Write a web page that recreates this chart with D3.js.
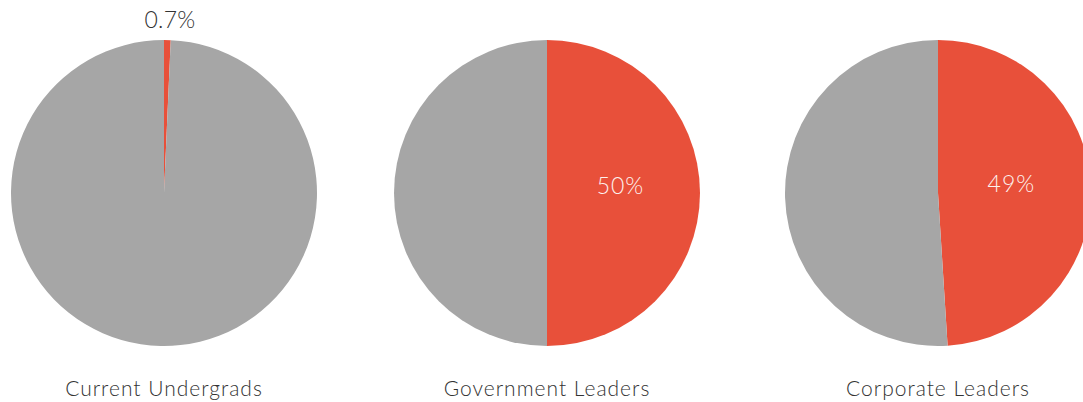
<!DOCTYPE html>
<html>
<head>
<meta charset="utf-8">
<script src="https://cdn.jsdelivr.net/npm/d3@7"></script>
<style>
  html, body { margin: 0; padding: 0; background: #fff; }
  svg { display: block; }
  text { font-family: Lato, "Open Sans", sans-serif; font-weight: 300; }
</style>
</head>
<body>
<svg id="chart" width="1083" height="402"></svg>
<script>
// Share of each group (percent) that the highlighted slice represents
const groups = ["Current Undergrads", "Government Leaders", "Corporate Leaders"];
const shares = [0.7, 50, 49];
const shareLabels = ["0.7%", "50%", "49%"];

const width = 1083, height = 402;
const radius = 153;
const centerY = 193;
const colors = { share: "#E8503A", rest: "#A6A6A6" };

const svg = d3.select("#chart");

// Pie centres along the row
const x = d3.scaleOrdinal()
  .domain(groups)
  .range([164, 547, 938]);

const pie = d3.pie().sort(null).value(d => d.value);
const arc = d3.arc().innerRadius(0).outerRadius(radius);
const labelArc = d3.arc().innerRadius(radius * 0.48).outerRadius(radius * 0.48);

groups.forEach((g, i) => {
  const data = [
    { key: "share", value: shares[i] },
    { key: "rest", value: 100 - shares[i] }
  ];
  const arcs = pie(data);
  const gEl = svg.append("g").attr("transform", `translate(${x(g)},${centerY})`);

  gEl.selectAll("path")
    .data(arcs)
    .join("path")
    .attr("d", arc)
    .attr("fill", d => colors[d.data.key]);

  const s = arcs[0];
  if (shares[i] < 5) {
    // Small slice: label sits outside the pie, above it
    gEl.append("text")
      .attr("x", 6)
      .attr("y", -radius - 12)
      .attr("text-anchor", "middle")
      .attr("font-size", 23)
      .attr("letter-spacing", 0.3)
      .attr("fill", "#333")
      .text(shareLabels[i]);
  } else {
    const [cx, cy] = labelArc.centroid(s);
    gEl.append("text")
      .attr("x", cx)
      .attr("y", cy + 1)
      .attr("text-anchor", "middle")
      .attr("font-size", 23)
      .attr("letter-spacing", 1)
      .attr("fill", "#fdf1ee")
      .text(shareLabels[i]);
  }

  gEl.append("text")
    .attr("x", 0)
    .attr("y", 396 - centerY)
    .attr("text-anchor", "middle")
    .attr("font-size", 21)
    .attr("letter-spacing", 1)
    .attr("fill", "#333")
    .text(g);
});
</script>
</body>
</html>
